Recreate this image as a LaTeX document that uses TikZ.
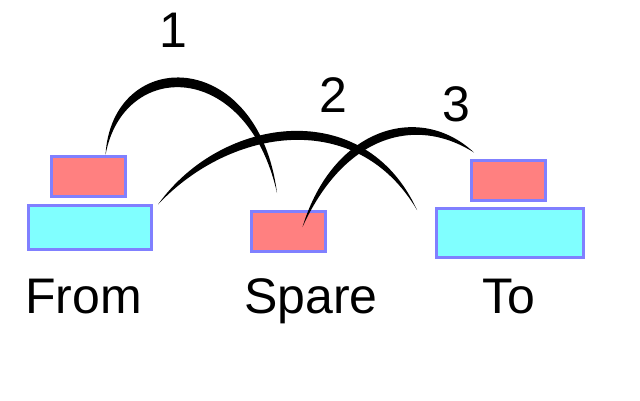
\documentclass[tikz,border=0pt]{standalone}
\usepackage{fontspec}
\setmainfont{Liberation Sans}
\definecolor{diskred}{RGB}{255,128,128}
\definecolor{diskcyan}{RGB}{128,255,255}
\definecolor{diskedge}{RGB}{128,128,255}
\tikzset{
  disk/.style={draw=diskedge,line width=3pt,inner sep=0pt},
  smalldisk/.style={disk,fill=diskred,minimum width=74pt,minimum height=40pt},
  bigdisk/.style={disk,fill=diskcyan,minimum height=44pt},
  peg/.style={font=\fontsize{50}{60}\selectfont,anchor=base},
  move/.style={fill=black}
}
\begin{document}
\begin{tikzpicture}[x=1pt,y=-1pt]
\useasboundingbox (0,0) rectangle (640,400);
% disks
\node[bigdisk,minimum width=123pt] (frombig) at (90,227) {};
\node[smalldisk] (fromsmall) at (88.5,176.5) {};
\node[smalldisk] (spare) at (288.5,231) {};
\node[bigdisk,minimum width=147pt,minimum height=49pt] (tobig) at (510,233) {};
\node[smalldisk] (tosmall) at (508.5,180) {};
% pegs
\node[peg] (fromlabel) at (83.5,313) {From};
\node[peg] (sparelabel) at (311,313) {Spare};
\node[peg] (tolabel) at (509,313) {To};
% moves
\coordinate (a1) at ([xshift=17pt]fromsmall.north);
\coordinate (b1) at (277,193);
\coordinate (a2) at ([shift={(5,1)}]frombig.north east);
\coordinate (b2) at (417,210);
\coordinate (a3) at ([shift={(14,-4)}]spare.center);
\coordinate (b3) at ([shift={(4,-6)}]tosmall.north west);
\fill[move] (a1) .. controls (112,46) and (258,46) .. (b1)
  .. controls (247,59) and (123,59) .. (a1) -- cycle;
\fill[move] (a2) .. controls (222,115) and (365,96) .. (b2)
  .. controls (357,108) and (231,127) .. (a2) -- cycle;
\fill[move] (a3) .. controls (333,127) and (420,102) .. (b3)
  .. controls (413,114) and (343,138) .. (a3) -- cycle;
\node[peg] (m1) at (173,47) {1};
\node[peg] (m2) at (333,112) {2};
\node[peg] (m3) at (456,121) {3};
\end{tikzpicture}
\end{document}
